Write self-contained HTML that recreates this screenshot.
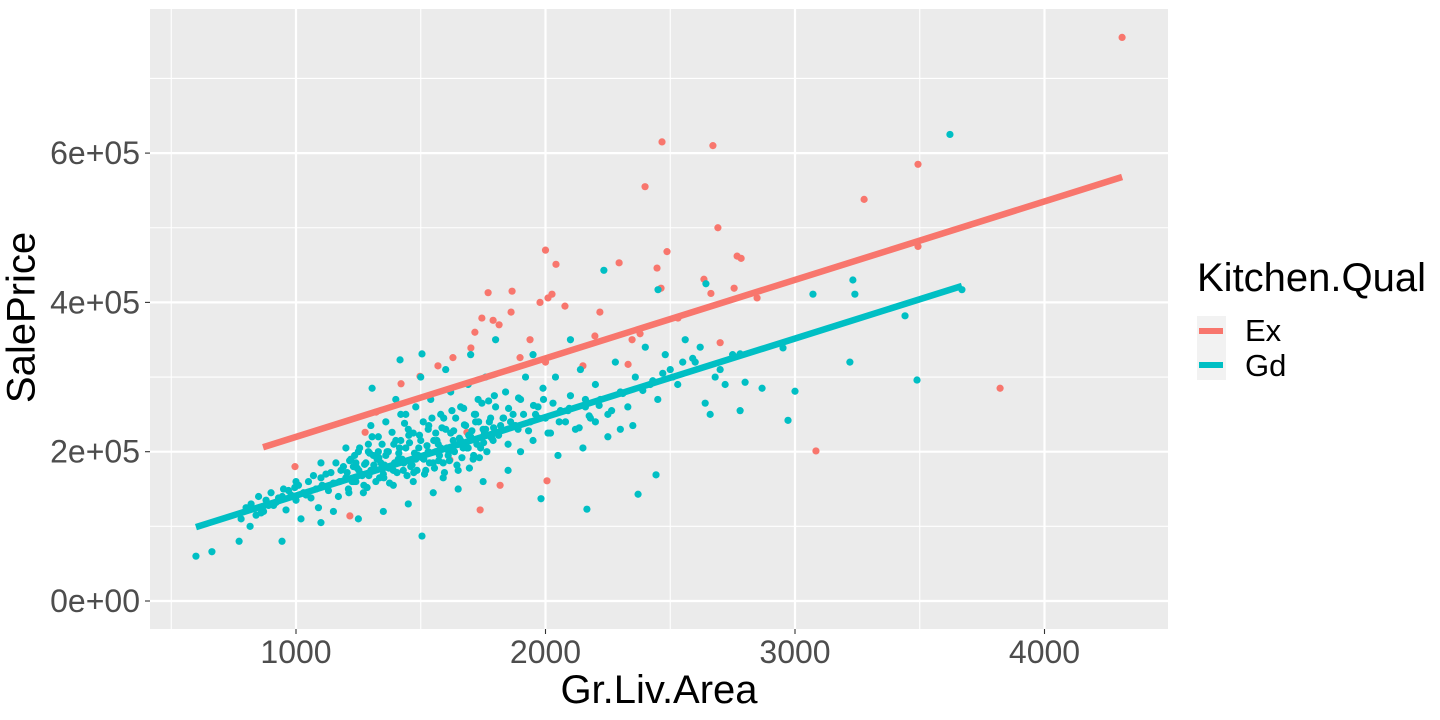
<!DOCTYPE html>
<html><head><meta charset="utf-8"><style>
body{margin:0;background:#fff;}
svg{display:block;font-family:"Liberation Sans",sans-serif;}
</style></head><body>
<svg id="c" width="1440" height="720"></svg>
<script>
const xTicks=[1000,2000,3000,4000];
const xMinor=[500,1500,2500,3500];
const yTicks=[0,200000,400000,600000];
const yTickLabels=["0e+00","2e+05","4e+05","6e+05"];
const yMinor=[100000,300000,500000,700000];
const exX=[4311,2467,2671,3493,2399,3277,2691,3493,2000,2487,2042,2295,2447,2768,2784,2635,1866,2026,2010,2463,2663,2756,2848,3822,3084,1745,1790,1814,1717,1701,1629,1569,1497,1421,1938,1898,2000,2150,2198,2331,2379,2700,2531,996,1216,1738,1818,2006,1685,1617,1321,1277,1978,2347,2218,2078,1770,1862];
const exY=[755,615,610,585,555,538,500,475,470,468,451,453,446,462,459,431,415,411,406,419,412,419,406,285,201,379,376,370,360,339,326,315,301,291,350,326,320,315,355,317,358,346,379,180,114,122,155,161,226,189,253,226,400,350,387,395,413,387];
const gdX=[3621,2451,2234,2643,3072,3232,3240,3441,3669,3220,3489,3000,2972,2952,2780,2800,2868,2443,2371,2166,1982,1505,944,772,599,663,816,1505,1417,1305,
780,800,820,840,850,870,880,900,910,930,950,960,980,1000,1010,1030,1050,1060,1080,1100,1090,1120,1130,1150,1160,1170,1180,1200,1210,1220,1230,1240,1250,1260,1270,1280,1290,1300,1310,1320,1330,1340,1350,1360,1370,1380,1390,1400,1410,1420,1430,1440,1450,1460,1470,1480,1490,1500,1510,1520,1530,1540,1550,1560,1570,1580,1590,1600,1610,1620,1630,1640,1650,1660,1670,1680,1690,1700,1710,1720,1730,1740,1750,1760,1780,1790,1800,1820,1840,1850,1870,1890,1900,1920,1940,1950,1970,1990,2000,2020,2040,2060,2080,2100,2120,2140,2160,2180,2200,2220,2250,2280,2300,2330,2360,2400,2420,2450,2480,2500,2530,2560,2600,2640,2660,2700,2720,2750,2780,2680,2620,1900,1850,1750,1650,1550,1450,1350,1250,1150,1020,1100,2050,2150,2250,2350,1700,1600,1800,1950,2100,2200,2300,1500,1400,1300,1200,1100,1000,
1240,1330,1420,1480,1530,1580,1620,1680,1720,1780,1830,1880,1960,2030,2090,2160,1360,1460,1560,1660,1760,1860,1260,1190,1390,1470,1590,1690,1290,1440,
1205,1215,1225,1235,1245,1255,1265,1275,1285,1295,1305,1315,1325,1335,1345,1355,1365,1375,1385,1395,1405,1415,1425,1435,1445,1455,1465,1475,1485,1495,1505,1515,1525,1535,1545,1555,1565,1575,1585,1595,1605,1615,1625,1635,1645,1655,1665,1675,1685,1695,1705,1715,1725,1735,1745,1755,1765,1775,1785,1795,
1212,1232,1252,1272,1292,1312,1332,1352,1372,1392,1412,1432,1452,1472,1492,1512,1532,1552,1572,1592,1612,1632,1652,1672,1692,1712,1732,1752,1772,1792,1812,1832,1852,1872,1892,1912,1932,1952,1972,1992,
860,890,920,945,970,995,1040,1070,1105,1140,1175,2010,2055,2095,2135,2175,2215,2265,2310,2390,2430,2470,2510,2550,2590];
const gdY=[625,417,443,425,411,430,411,382,417,320,296,281,242,339,331,293,285,169,143,123,137,87,80,80,60,66,100,331,323,285,
110,125,130,115,140,120,135,145,128,138,150,122,142,135,155,145,160,138,150,165,125,170,148,158,185,140,175,165,150,190,180,160,200,170,145,185,210,175,195,160,220,185,170,240,200,180,155,215,190,250,175,205,230,185,160,260,195,215,240,175,200,270,185,225,210,250,165,230,195,280,215,245,175,260,205,235,290,220,190,250,270,205,230,300,245,215,260,235,280,210,250,230,270,300,240,215,260,285,245,225,300,255,240,275,230,310,260,245,290,270,250,320,280,260,300,340,290,270,330,310,290,350,320,265,250,310,290,330,255,300,340,200,175,160,150,145,130,120,110,120,110,105,195,205,220,235,330,310,350,330,350,240,230,300,270,235,205,185,160,
185,200,215,190,230,205,225,210,240,220,245,235,250,265,255,270,195,180,200,215,230,240,170,180,175,225,185,205,200,250,
172,188,160,195,178,205,168,183,152,198,220,176,190,165,210,182,200,158,226,185,172,205,190,238,168,212,182,198,175,222,192,170,208,185,245,178,215,195,232,172,205,188,255,200,182,218,192,236,205,178,228,250,210,192,265,225,200,240,218,275,
145,160,175,155,168,182,192,165,178,210,198,185,222,172,205,190,235,215,188,245,200,228,210,258,222,195,240,212,268,232,222,245,258,235,272,250,228,262,245,270,
118,128,132,140,148,152,142,168,155,172,160,225,240,258,232,248,262,255,278,282,295,305,300,320,325];
const exLineX=[868,4311], exLineY=[206000,568000];
const gdLineX=[599,3669], gdLineY=[99000,422000];

const NS="http://www.w3.org/2000/svg";
const svg=document.getElementById('c');
const L=150,R=1168,T=9,B=629;
const sx=v=>296+(v-1000)*0.2495;
const sy=v=>601-v/200000*149.3;
function mk(tag,attrs,parent){const e=document.createElementNS(NS,tag);for(const k in attrs)e.setAttribute(k,attrs[k]);(parent||svg).appendChild(e);return e;}
const bg=mk('rect',{x:L,y:T,width:R-L,height:B-T,fill:'#ebebeb'});


xMinor.forEach(v=>{const l=mk('line',{x1:sx(v),x2:sx(v),y1:T,y2:B,stroke:'#fff','stroke-width':1.1});

});
yMinor.forEach(v=>{const l=mk('line',{x1:L,x2:R,y1:sy(v),y2:sy(v),stroke:'#fff','stroke-width':1.1});

});
xTicks.forEach(v=>{const l=mk('line',{x1:sx(v),x2:sx(v),y1:T,y2:B,stroke:'#fff','stroke-width':2.2});


const t=mk('line',{x1:sx(v),x2:sx(v),y1:B,y2:B+5,stroke:'#333','stroke-width':1.1});


const tx=mk('text',{x:sx(v),y:663,'text-anchor':'middle','font-size':32,fill:'#4d4d4d'});tx.textContent=v;

});
yTicks.forEach((v,i)=>{const l=mk('line',{x1:L,x2:R,y1:sy(v),y2:sy(v),stroke:'#fff','stroke-width':2.2});


const t=mk('line',{x1:L-5,x2:L,y1:sy(v),y2:sy(v),stroke:'#333','stroke-width':1.1});


const tx=mk('text',{x:140,y:sy(v)+11,'text-anchor':'end','font-size':32,fill:'#4d4d4d'});tx.textContent=yTickLabels[i];

});
exX.forEach((v,i)=>{const c=mk('circle',{cx:sx(v),cy:sy(exY[i]*1000),r:3.6,fill:'#f8766d'});

});
gdX.forEach((v,i)=>{const c=mk('circle',{cx:sx(v),cy:sy(gdY[i]*1000),r:3.6,fill:'#00bfc4'});

});
const le=mk('line',{x1:sx(exLineX[0]),y1:sy(exLineY[0]),x2:sx(exLineX[1]),y2:sy(exLineY[1]),stroke:'#f8766d','stroke-width':6.5});


const lg=mk('line',{x1:sx(gdLineX[0]),y1:sy(gdLineY[0]),x2:sx(gdLineX[1]),y2:sy(gdLineY[1]),stroke:'#00bfc4','stroke-width':6.5});


</script>
<div style="position:absolute;left:459px;top:668px;width:400px;text-align:center;font:40px 'Liberation Sans',sans-serif;color:#000;">Gr.Liv.Area</div>
<div style="position:absolute;left:-178px;top:295px;width:400px;text-align:center;font:40px 'Liberation Sans',sans-serif;color:#000;transform:rotate(-90deg);">SalePrice</div>
<div style="position:absolute;left:1197px;top:254px;font-family:'Liberation Sans',sans-serif;">
<div style="font-size:40px;line-height:48px;">Kitchen.Qual</div>
<div style="position:absolute;left:0;top:62px;width:29px;height:64px;background:#f2f2f2;">
<div style="position:absolute;left:2px;top:12px;width:24px;height:6px;background:#f8766d;"></div>
<div style="position:absolute;left:2px;top:46px;width:24px;height:6px;background:#00bfc4;"></div>
</div>
<div style="position:absolute;left:48px;top:59px;font-size:31px;">Ex</div>
<div style="position:absolute;left:48px;top:94px;font-size:31px;">Gd</div>
</div>
</body></html>
